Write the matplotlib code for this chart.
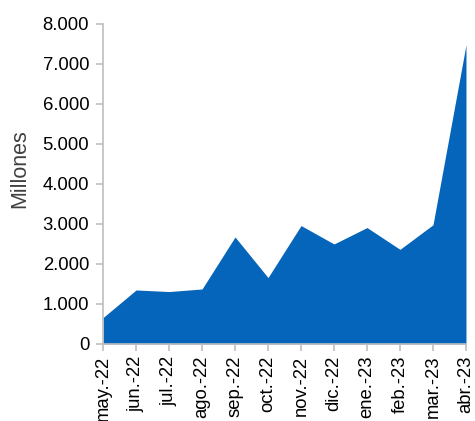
import matplotlib
matplotlib.use("Agg")
import matplotlib.pyplot as plt
from matplotlib.ticker import FuncFormatter

plt.rcParams['font.family'] = ['Liberation Sans', 'DejaVu Sans']

# months and values (millions)
meses = ["may.-22", "jun.-22", "jul.-22", "ago.-22", "sep.-22", "oct.-22",
         "nov.-22", "dic.-22", "ene.-23", "feb.-23", "mar.-23", "abr.-23"]
millones = [660, 1350, 1310, 1375, 2675, 1660, 2960, 2500, 2910, 2365, 2980, 7475]

x = list(range(len(meses)))

fig = plt.figure(figsize=(4.75, 4.21), dpi=100)
ax = fig.add_axes([0.217, 0.183, 0.764, 0.760])

ax.fill_between(x, millones, 0, color="#0565BA", linewidth=0)

ax.set_xlim(0, len(meses) - 1)
ax.set_ylim(0, 8000)
ax.set_yticks(range(0, 8001, 1000))
ax.yaxis.set_major_formatter(FuncFormatter(lambda v, p: f"{int(v):,}".replace(",", ".")))
ax.set_xticks(x)
ax.set_xticklabels(meses, rotation=90)

ax.set_ylabel("Millones", fontsize=15.5, color="#404040")
ax.yaxis.set_label_coords(-0.202, 0.547)
ax.tick_params(axis="both", labelsize=13.3, colors="#BFBFBF", labelcolor="#000000", length=5, width=1.2)
ax.tick_params(axis="y", pad=5)
for s in ["top", "right"]:
    ax.spines[s].set_visible(False)
for s in ["left", "bottom"]:
    ax.spines[s].set_color("#BFBFBF")
    ax.spines[s].set_linewidth(1.2)

fig.savefig("out.png", dpi=100)
